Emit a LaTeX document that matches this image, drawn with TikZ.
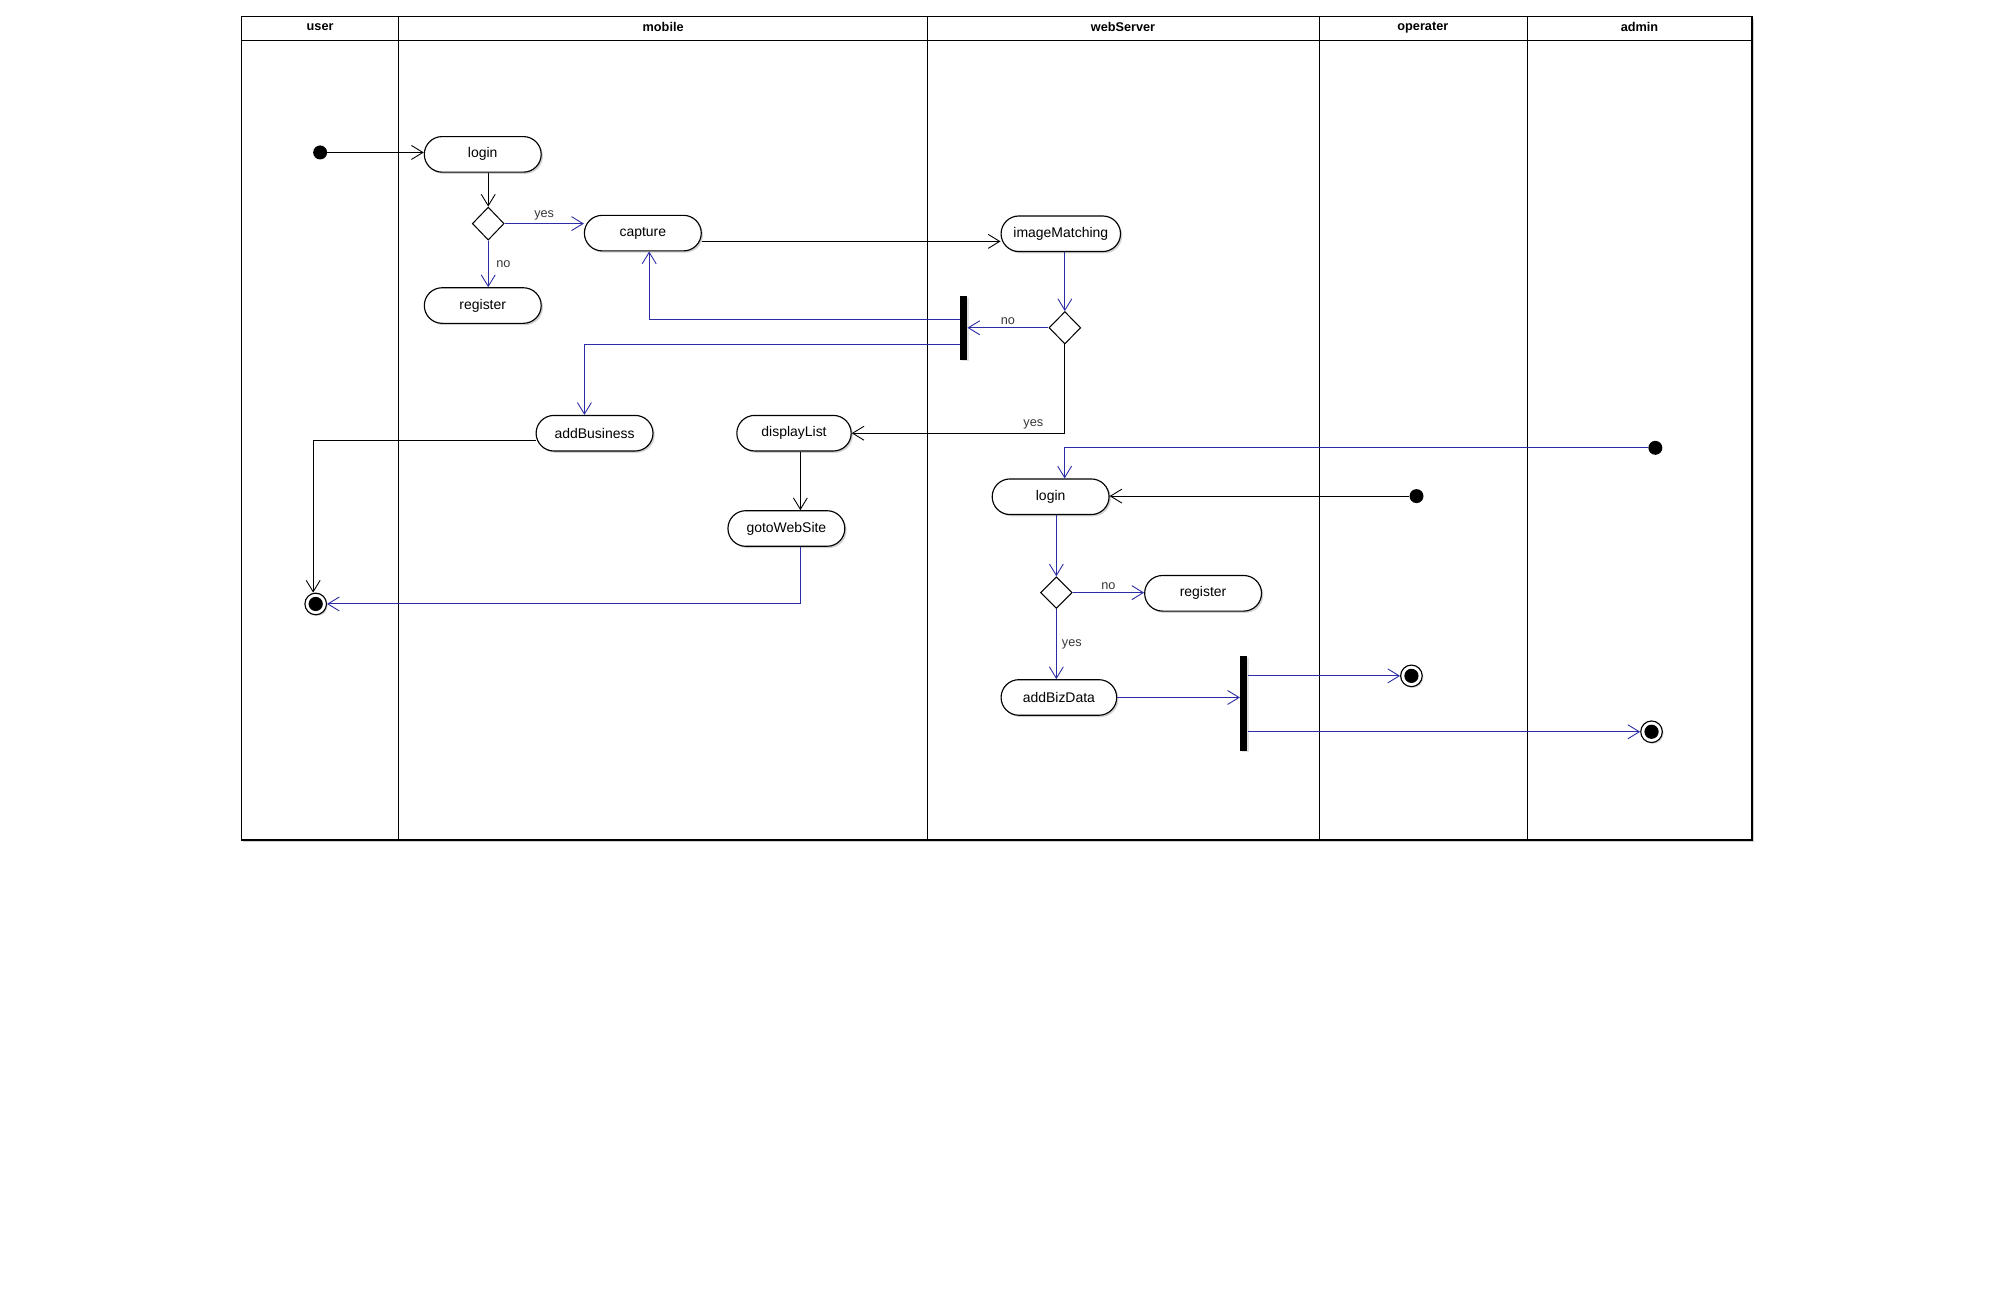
\documentclass[tikz,border=0pt]{standalone}
\usepackage{fontspec}
\setmainfont{Liberation Sans}
\usetikzlibrary{arrows.meta,shadows,calc,shapes.geometric}
\definecolor{flowblue}{RGB}{44,44,164}
\definecolor{lblgray}{RGB}{55,55,55}
\begin{document}
\begin{tikzpicture}[x=1pt,y=-1pt,
  act/.style={draw=black, line width=0.9pt, fill=white, rectangle, rounded corners=14pt,
    minimum width=92pt, minimum height=28pt, inner sep=0pt,
    font=\fontsize{11}{13}\selectfont,
    drop shadow={shadow xshift=1.4pt, shadow yshift=-1.4pt, opacity=0.35}},
  decis/.style={draw=black, line width=0.8pt, fill=white, diamond, aspect=1,
    minimum width=25pt, minimum height=26pt, inner sep=0pt},
  startdot/.style={circle, fill=black, minimum size=11pt, inner sep=0pt},
  enddot/.style={circle, draw=black, line width=0.9pt, fill=white, minimum size=17pt, inner sep=0pt,
    path picture={\fill[black] (path picture bounding box.center) circle (5.6pt);},
    drop shadow={shadow xshift=1pt, shadow yshift=-1pt, opacity=0.3}},
  forkbar/.style={rectangle, fill=black, draw=none, inner sep=0pt, minimum width=5.7pt,
    drop shadow={shadow xshift=1.3pt, shadow yshift=-1.3pt, opacity=0.25}},
  flow/.style={line width=0.8pt, -{Straight Barb[length=9pt,width=11pt,line width=0.7pt]}},
  bflow/.style={flow, draw=flowblue},
  kflow/.style={flow, draw=black},
  lbl/.style={font=\fontsize{10}{12}\selectfont, text=lblgray, inner sep=2pt},
  hdr/.style={font=\bfseries\fontsize{10}{12}\selectfont, inner sep=0pt}]

\useasboundingbox (0,0) rectangle (1568,1026);
\fill[white] (0,0) rectangle (1568,1026);

% swimlane frame
\draw[line width=1.2pt, fill=white, drop shadow={shadow xshift=1.6pt, shadow yshift=-1.6pt, opacity=0.35}]
  (190,13) rectangle (1379,661);
\draw[line width=1pt] (190,32) -- (1379,32);
\foreach \xx in {314,730,1038.5,1202} \draw[line width=0.8pt] (\xx,13) -- (\xx,661);

\node[hdr] (huser) at (252,21.5) {user};
\node[hdr] (hmobile) at (522,21.5) {mobile};
\node[hdr] (hweb) at (884,21.5) {webServer};
\node[hdr] (hop) at (1120,21.5) {operater};
\node[hdr] (hadmin) at (1290.5,21.5) {admin};

% nodes
\node[startdot] (start1) at (252,120) {};
\node[act] (login1) at (380,121.5) {login};
\node[decis] (dec1) at (384.3,176) {};
\node[act] (capture) at (506,183.5) {capture};
\node[act] (register1) at (380,240.5) {register};
\node[act, minimum width=94pt] (imatch) at (835,184) {imageMatching};
\node[decis, minimum height=25.5pt] (dec2) at (838.2,258) {};
\node[forkbar, minimum height=50pt] (bar1) at (758.5,258) {};
\node[act] (addBusiness) at (468,341) {addBusiness};
\node[act, minimum width=90pt] (displayList) at (625,341) {displayList};
\node[act] (gotoWeb) at (619,416) {gotoWebSite};
\node[enddot] (end1) at (248.5,475.4) {};

\node[startdot] (startAdmin) at (1303,352.5) {};
\node[startdot] (startOp) at (1115,390.5) {};
\node[act] (login2) at (827,391) {login};
\node[decis, minimum height=25pt] (dec3) at (831.5,466.5) {};
\node[act] (register2) at (947,467) {register};
\node[act, minimum width=91pt] (addBiz) at (833.5,549) {addBizData};
\node[forkbar, minimum height=74.5pt] (bar2) at (979,553.6) {};
\node[enddot] (endOp) at (1111,532) {};
\node[enddot] (endAdmin) at (1300,576) {};

% connectors
\draw[kflow] (start1) -- (start1 -| login1.west);
\draw[kflow] (login1.south -| dec1.north) -- (dec1.north);
\draw[bflow] (dec1.east) -- node[lbl, above] {yes} (dec1.east -| capture.west);
\draw[bflow] (dec1.south) -- node[lbl, right, xshift=4pt] {no} (dec1.south |- register1.north);
\draw[kflow] ([yshift=-6.5pt]capture.east) -- ([yshift=-6.5pt]capture.east -| imatch.west);
\draw[bflow] (dec2.north |- imatch.south) -- (dec2.north);
\draw[bflow] (dec2.west) -- node[lbl, above] {no} (dec2.west -| bar1.east);
\draw[bflow] ([yshift=6.5pt]bar1.west) -| ([xshift=5pt]capture.south);
\draw[bflow] ([yshift=-13pt]bar1.west) -| ([xshift=-8pt]addBusiness.north);
\draw[kflow] (dec2.south) |- node[lbl, pos=0.574, above, yshift=1pt] {yes} (displayList.east);
\draw[kflow] ([yshift=-6pt]addBusiness.west) -| ([xshift=-2pt]end1.north);
\draw[kflow] ([xshift=5pt]displayList.south) -- ([xshift=5pt]displayList.south |- gotoWeb.north);
\draw[bflow] ([xshift=11pt]gotoWeb.south) |- (end1.east);

\draw[bflow] (startAdmin) -| ([xshift=11pt]login2.north);
\draw[kflow] (startOp) -- (startOp -| login2.east);
\draw[bflow] (dec3.north |- login2.south) -- (dec3.north);
\draw[bflow] (dec3.east) -- node[lbl, above] {no} (dec3.east -| register2.west);
\draw[bflow] (dec3.south) -- node[lbl, right, xshift=2pt] {yes} (dec3.south |- addBiz.north);
\draw[bflow] (addBiz.east) -- (addBiz.east -| bar2.west);
\draw[bflow] (bar2.east |- endOp) -- (endOp.west);
\draw[bflow] (bar2.east |- endAdmin) -- (endAdmin.west);

\end{tikzpicture}
\end{document}
